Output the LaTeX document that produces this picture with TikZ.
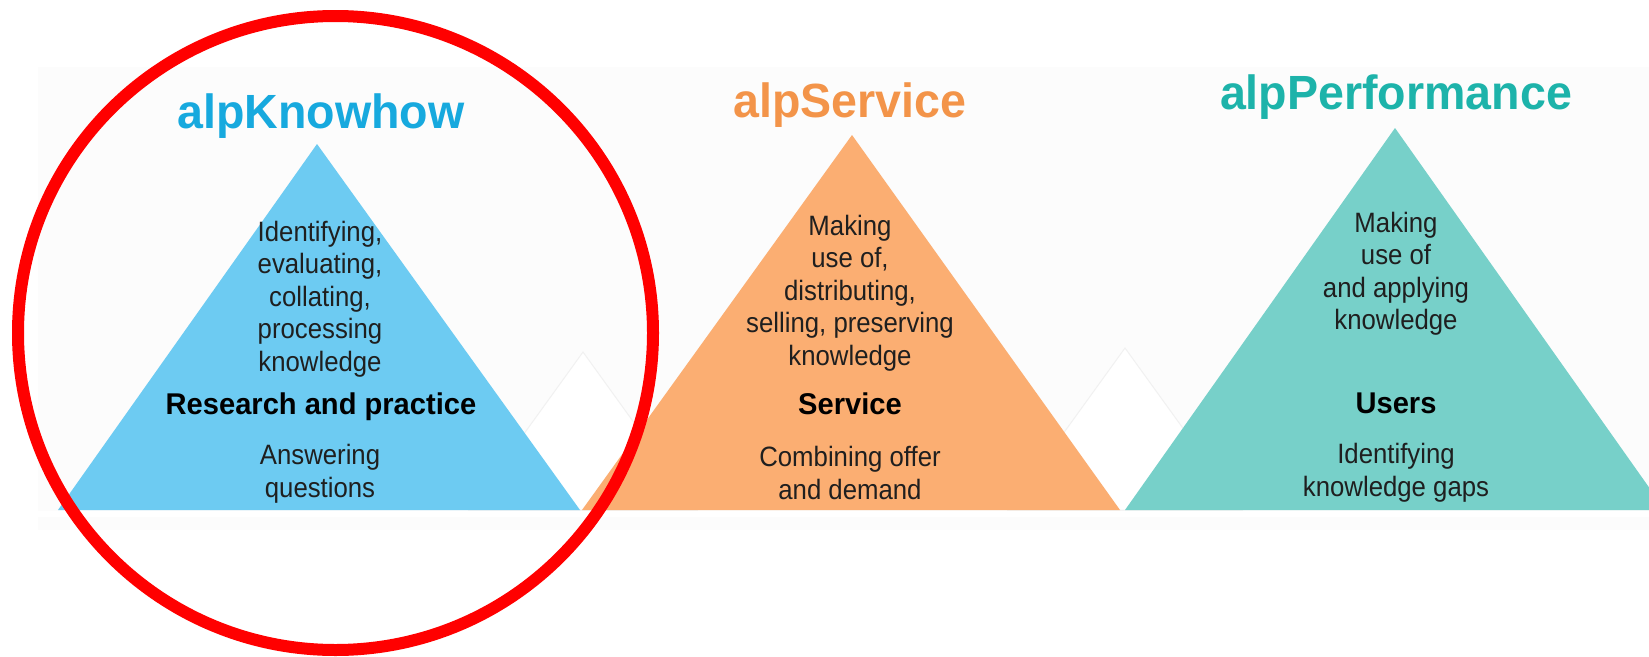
\documentclass[tikz,border=0pt]{standalone}
\usepackage{fontspec}
\setmainfont{Liberation Sans}
\newfontfamily\bodyfont[FakeStretch=0.92]{Liberation Sans}
\newfontfamily\headfont[FakeStretch=0.97]{Liberation Sans}
\definecolor{kbl}{HTML}{6DCBF2}
\definecolor{sor}{HTML}{FBAE72}
\definecolor{pte}{HTML}{77D0C9}
\definecolor{kbt}{HTML}{17A9DE}
\definecolor{sot}{HTML}{F39449}
\definecolor{ptt}{HTML}{1DB3AA}
\definecolor{ghostline}{HTML}{F1F1F1}
\definecolor{panel}{HTML}{FCFCFC}
\begin{document}
\begin{tikzpicture}[x=1pt,y=-1pt,
  body/.style={align=center, font=\bodyfont\fontsize{28}{32.5}\selectfont, text=black!88, inner sep=0pt},
  head/.style={font=\headfont\bfseries\fontsize{30}{34}\selectfont, text=black, inner sep=0pt},
  title/.style={font=\headfont\bfseries\fontsize{48}{52}\selectfont, inner sep=0pt},
  ghost/.style={draw=ghostline, line width=1pt, fill=white}]
\useasboundingbox (0,0) rectangle (1649,656);
\fill[white] (0,0) rectangle (1649,656);
\fill[panel] (38,67) rectangle (1649,530);
\fill[white] (38,511) rectangle (1649,517);
% faint background triangles
\draw[ghost] (583,352) -- (469,510) -- (697,510) -- cycle;
\draw[ghost] (1125,348) -- (1008,510) -- (1242,510) -- cycle;
% main triangles
\fill[kbl] (317,144) -- (58,510) -- (580,510) -- cycle;
\fill[sor] (852,135) -- (582,510) -- (1120,510) -- cycle;
\fill[pte] (1395,128) -- (1125,510) -- (1665,510) -- cycle;
% titles
\node[title, text=kbt] (t1) at (321,116) {alpKnowhow};
\node[title, text=sot] (t2) at (850,105) {alpService};
\node[title, text=ptt] (t3) at (1396,97) {alpPerformance};
% blue texts
\node[body] (k1) at (320,299) {Identifying,\\evaluating,\\collating,\\processing\\knowledge};
\node[head] (k2) at (321,407) {Research and practice};
\node[body] (k3) at (320,474) {Answering\\questions};
% orange texts
\node[body] (s1) at (850,293) {Making\\use of,\\distributing,\\selling, preserving\\knowledge};
\node[head] (s2) at (850,404) {Service};
\node[body] (s3) at (850,473) {Combining offer\\and demand};
% teal texts
\node[body] (p1) at (1396,274) {Making\\use of\\and applying\\knowledge};
\node[head] (p2) at (1396,403) {Users};
\node[body] (p3) at (1396,473) {Identifying\\knowledge gaps};
% red circle
\draw[red, line width=12pt] (335.5,333) ellipse [x radius=317.5, y radius=317];
\end{tikzpicture}
\end{document}
